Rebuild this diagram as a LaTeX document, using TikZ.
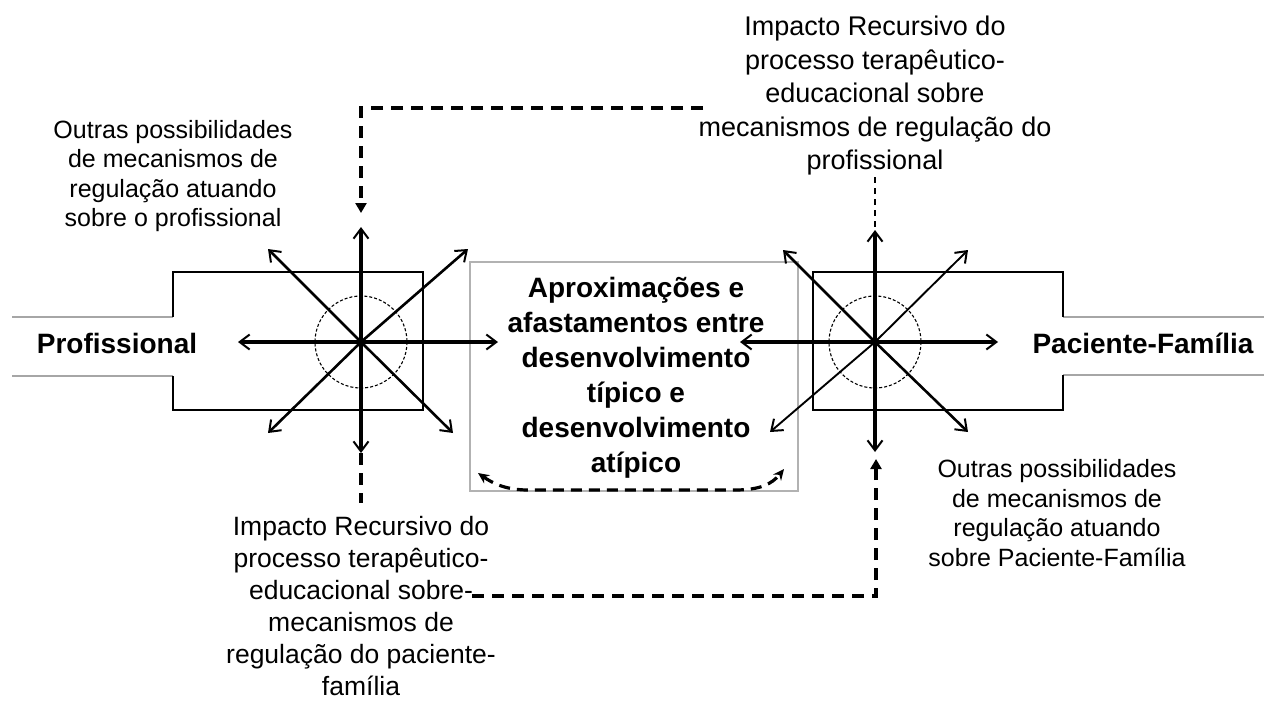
\documentclass[tikz,border=0pt]{standalone}
\usepackage{fontspec}
\setmainfont{Liberation Sans}
\usetikzlibrary{arrows.meta}
\begin{document}
\begin{tikzpicture}[x=1pt,y=-1pt,
  barb/.style={-{Straight Barb[length=10pt,width=15pt,line width=2pt]}},
  ray/.style={barb,line width=3.2pt},
  rayt/.style={barb,line width=2.6pt},
  boxline/.style={line width=2.4pt,line join=miter},
  band/.style={line width=1.2pt,draw=black!35},
  ring/.style={line width=1.1pt,dash pattern=on 3pt off 2pt},
  thickdash/.style={line width=3.8pt,dash pattern=on 12pt off 8pt},
  thindash/.style={line width=1.5pt,dash pattern=on 6pt off 5pt},
  filltip/.style={-{Triangle[length=10pt,width=11pt]}},
  smalltxt/.style={align=center,inner sep=0pt,font=\fontsize{25}{29.5}\selectfont},
  imptxt/.style={align=center,inner sep=0pt,font=\fontsize{27}{33.5}\selectfont},
  impbtxt/.style={align=center,inner sep=0pt,font=\fontsize{26.5}{32}\selectfont},
  boldtxt/.style={align=center,inner sep=0pt,font=\bfseries\fontsize{28}{35}\selectfont},
  labtxt/.style={inner sep=0pt,font=\bfseries\fontsize{28}{34}\selectfont}
]
\useasboundingbox (0,0) rectangle (1264,702);

% central box
\draw[line width=1.1pt,draw=black!30] (470,262) rectangle (798,491);
\node[boldtxt] (mid) at (636,378) {Aproximações e\\afastamentos entre\\desenvolvimento\\típico e\\desenvolvimento\\atípico};

% left side
\draw[band] (12,317) -- (173,317);
\draw[band] (12,376) -- (173,376);
\draw[boxline] (173,317) -- (173,272) -- (423,272) -- (423,410) -- (173,410) -- (173,376);
\node[labtxt] (prof) at (117,343) {Profissional};
\coordinate (L) at (361,342);
\draw[ring] (L) circle (46);
\coordinate (LN) at (361,227);
\coordinate (LS) at (361,453);
\coordinate (LW) at (238,342);
\coordinate (LE) at (498,342);
\coordinate (LNW) at (268,249);
\coordinate (LNE) at (468,249);
\coordinate (LSW) at (268,433);
\coordinate (LSE) at (453,433);
\draw[ray] (L) -- (LN);
\draw[ray] (L) -- (LS);
\draw[ray] (L) -- (LW);
\draw[ray] (L) -- (LE);
\draw[rayt] (L) -- (LNW);
\draw[rayt] (L) -- (LNE);
\draw[rayt] (L) -- (LSW);
\draw[rayt] (L) -- (LSE);

% right side
\draw[band] (1063,317) -- (1264,317);
\draw[band] (1063,375) -- (1264,375);
\draw[boxline] (1063,317) -- (1063,272) -- (813,272) -- (813,410) -- (1063,410) -- (1063,375);
\node[labtxt] (pac) at (1143,343) {Paciente-Família};
\coordinate (R) at (875,342);
\draw[ring] (R) circle (46);
\coordinate (RN) at (875,230);
\coordinate (RS) at (875,452);
\coordinate (RW) at (740,342);
\coordinate (RE) at (998,342);
\coordinate (RNW) at (783,250);
\coordinate (RNE) at (968,250);
\coordinate (RSW) at (770,432);
\coordinate (RSE) at (968,432);
\draw[ray] (R) -- (RN);
\draw[ray] (R) -- (RS);
\draw[ray] (R) -- (RW);
\draw[ray] (R) -- (RE);
\draw[rayt] (R) -- (RNW);
\draw[rayt,line width=1.9pt] (R) -- (RNE);
\draw[rayt,line width=1.9pt] (R) -- (RSW);
\draw[rayt] (R) -- (RSE);

% texts
\node[smalltxt] (outL) at (173,176) {Outras possibilidades\\de mecanismos de\\regulação atuando\\sobre o profissional};
\node[smalltxt] (outR) at (1057,513) {Outras possibilidades\\de mecanismos de\\regulação atuando\\sobre Paciente-Família};
\node[imptxt] (impT) at (875,96) {Impacto Recursivo do\\processo terapêutico-\\educacional sobre\\mecanismos de regulação do\\profissional};
\node[impbtxt] (impB) at (361,606) {Impacto Recursivo do\\processo terapêutico-\\educacional sobre-\\mecanismos de\\regulação do paciente-\\família};

% dashed feedback connectors
\coordinate (topStart) at (703,108);
\coordinate (topDown) at (361,213);
\draw[thickdash,filltip] (topStart) -- (361,108) -- (topDown);
\coordinate (impTfoot) at (875,177);
\draw[thindash] (impTfoot) -- (RN);
\coordinate (impBtop) at (361,503);
\draw[thickdash] (LS) -- (impBtop);
\coordinate (botStart) at (472,596);
\coordinate (botUp) at (876,459);
\draw[thickdash,filltip] (botStart) -- (876,596) -- (botUp);

% curve inside central box
\coordinate (cA) at (478,473);
\coordinate (cB) at (784,469);
\draw[line width=3.2pt,dash pattern=on 11pt off 7pt,{Stealth[length=11pt,width=10pt]}-{Stealth[length=11pt,width=10pt]}]
  (cA) .. controls (505,492) and (525,490) .. (545,490) -- (735,490) .. controls (760,490) and (772,484) .. (cB);
\end{tikzpicture}
\end{document}
